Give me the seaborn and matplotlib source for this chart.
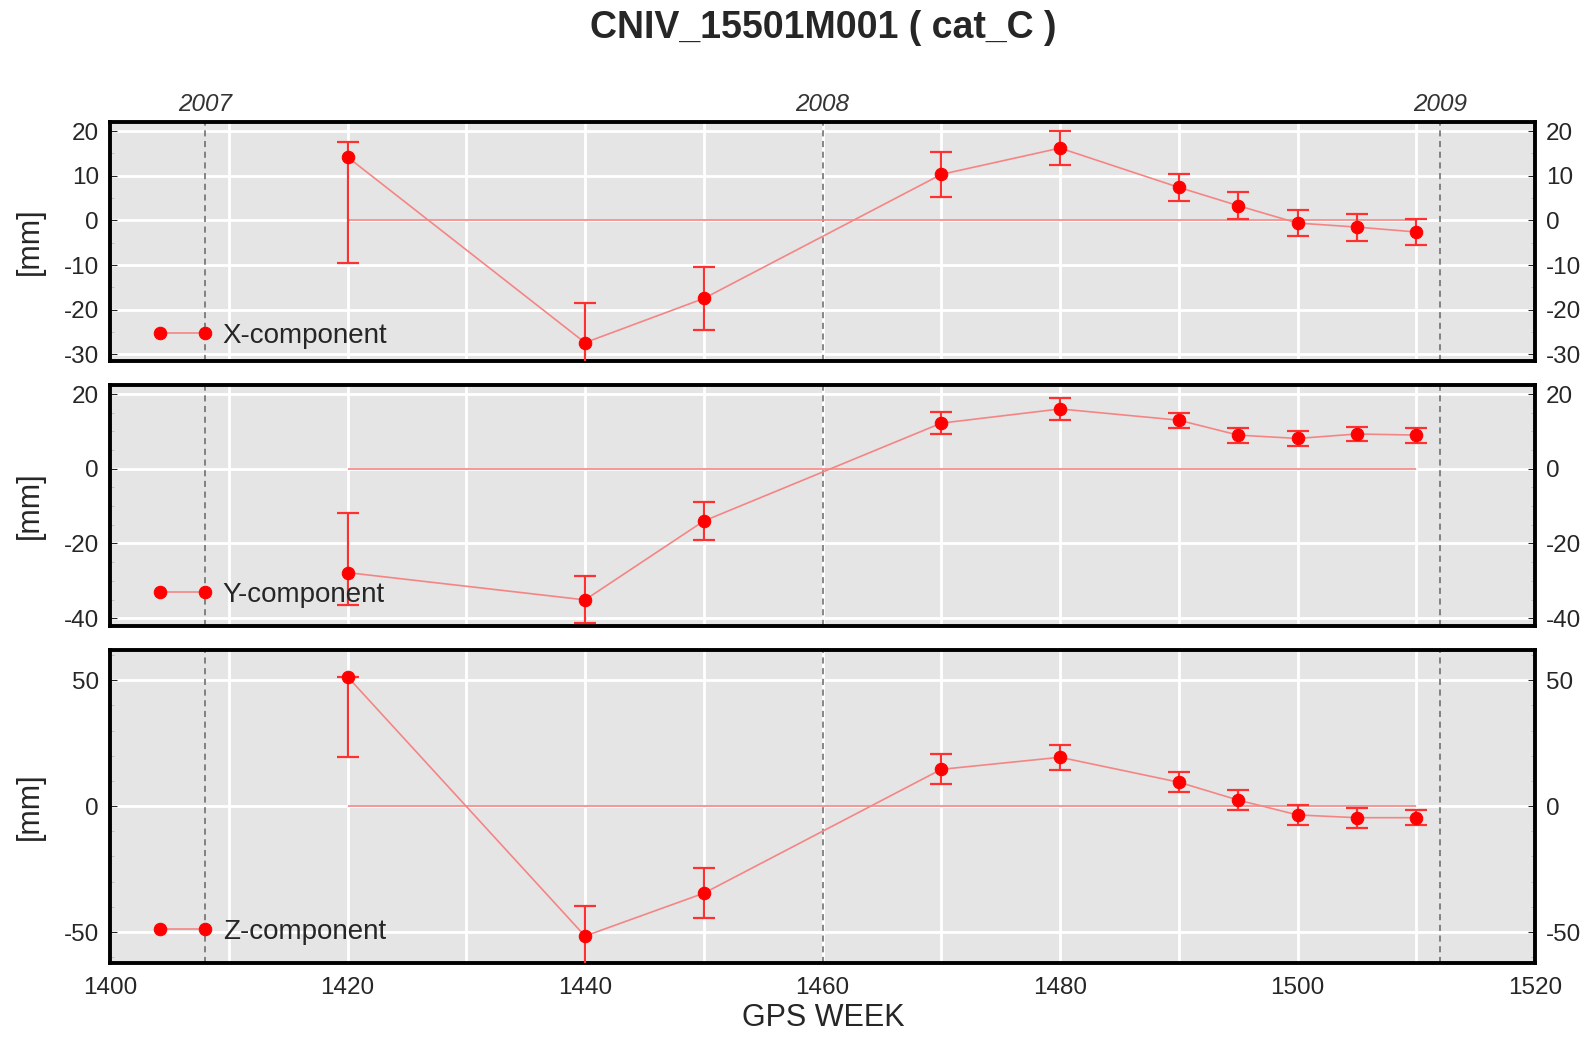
import numpy as np
import pandas as pd
import matplotlib
matplotlib.use('Agg')
import matplotlib.pyplot as plt
from matplotlib.transforms import offset_copy, blended_transform_factory
from matplotlib.ticker import MultipleLocator
import seaborn as sns

titulo = 'CNIV_15501M001 ( cat_C )'
semanas = [1420, 1440, 1450, 1470, 1480, 1490, 1495, 1500, 1505, 1510]

x_val = [14.2, -27.4, -17.5, 10.3, 16.2, 7.4, 3.3, -0.6, -1.5, -2.6]
x_lo = [-9.5, -36.4, -24.5, 5.3, 12.4, 4.3, 0.3, -3.5, -4.6, -5.6]
x_hi = [17.6, -18.4, -10.5, 15.3, 20.1, 10.4, 6.3, 2.3, 1.5, 0.4]

y_val = [-27.8, -35.1, -14.0, 12.2, 16.0, 13.0, 9.0, 8.1, 9.3, 9.0]
y_lo = [-36.4, -41.4, -19.0, 9.2, 13.0, 11.0, 7.0, 6.1, 7.3, 7.0]
y_hi = [-11.9, -28.8, -9.0, 15.2, 19.0, 15.0, 11.0, 10.1, 11.3, 11.0]

z_val = [51.4, -51.6, -34.6, 14.6, 19.4, 9.5, 2.4, -3.5, -4.6, -4.6]
z_lo = [19.6, -63.6, -44.6, 8.6, 14.5, 5.5, -1.6, -7.5, -8.6, -7.6]
z_hi = [51.4, -39.6, -24.6, 20.6, 24.3, 13.5, 6.4, 0.5, -0.6, -1.6]

anos = ['2007', '2008', '2009']
semanas_ano = [1408, 1460, 1512]

componentes = ['X-component', 'Y-component', 'Z-component']
valores = [x_val, y_val, z_val]
inferiores = [x_lo, y_lo, z_lo]
superiores = [x_hi, y_hi, z_hi]
limites_y = [(-31.5, 22.1), (-42.1, 22.4), (-62.2, 62)]
passo_y = [10, 20, 50]
passo_menor = [5, 5, 10]

sns.set_style('darkgrid', {'axes.facecolor': '#e5e5e5', 'grid.color': 'white'})
plt.rcParams['font.family'] = ['Liberation Sans', 'DejaVu Sans']
plt.rcParams['axes.unicode_minus'] = False

fig = plt.figure(figsize=(15.92, 10.37), dpi=100)
# posicoes dos paineis em fracao da figura
caixas = [(0.0691, 0.6519, 0.8951, 0.2307),
          (0.0691, 0.3963, 0.8951, 0.2324),
          (0.0691, 0.0716, 0.8951, 0.3016)]
legenda_y = [25, 31, 31]

cor_linha = '#f58585'
cor_ponto = '#ff0000'

for i in range(3):
    ax = fig.add_axes(caixas[i])
    df = pd.DataFrame({'semana': semanas, 'valor': valores[i]})
    val = np.array(valores[i])
    erro = [val - np.array(inferiores[i]), np.array(superiores[i]) - val]

    ax.hlines(0, semanas[0], semanas[-1], color=cor_linha, lw=1.2, zorder=2)
    for s in semanas_ano:
        ax.axvline(s, color='#666666', lw=1.1, ls=(0, (4, 3)), zorder=1.5)
    ax.errorbar(semanas, val, yerr=erro, fmt='none', ecolor='#ff3030',
                elinewidth=1.6, capsize=8, capthick=1.6, zorder=3)
    sns.lineplot(data=df, x='semana', y='valor', ax=ax, color=cor_linha, lw=1.2,
                 marker='o', markersize=9, markerfacecolor=cor_ponto,
                 markeredgecolor=cor_ponto, label=componentes[i], zorder=4)

    ax.set_xlim(1400, 1520)
    ax.set_ylim(*limites_y[i])
    ax.xaxis.set_major_locator(MultipleLocator(20))
    ax.xaxis.set_minor_locator(MultipleLocator(10))
    ax.yaxis.set_major_locator(MultipleLocator(passo_y[i]))
    ax.yaxis.set_minor_locator(MultipleLocator(passo_menor[i]))
    ax.grid(True, which='major', color='white', lw=2)
    ax.grid(True, which='minor', axis='x', color='white', lw=2)
    ax.set_xlabel('')
    ax.set_ylabel('[mm]', fontsize=22)
    ax.yaxis.set_label_coords(-0.046, 0.5)

    ax.tick_params(axis='y', which='major', labelsize=17.5, left=True, right=True,
                   labelright=True, direction='in', length=5, pad=8)
    ax.tick_params(axis='y', which='minor', left=True, right=True,
                   direction='in', length=3, color='#bbbbbb')
    ax.tick_params(axis='x', which='both', length=0, labelsize=17.5, pad=10)
    if i < 2:
        ax.tick_params(axis='x', labelbottom=False)

    for lado in ax.spines.values():
        lado.set_visible(True)
        lado.set_color('black')
        lado.set_linewidth(2.8)

    trans = offset_copy(ax.transAxes, fig=fig, x=42, y=legenda_y[i], units='dots')
    ax.legend(loc='center left', bbox_to_anchor=(0, 0), bbox_transform=trans,
              frameon=False, numpoints=2, handlelength=2.2, handletextpad=0.35,
              borderpad=0, borderaxespad=0, fontsize=20)

    if i == 0:
        tr = blended_transform_factory(ax.transData, ax.transAxes)
        for ano, s in zip(anos, semanas_ano):
            ax.text(s, 1.071, ano, transform=tr, ha='center', va='center',
                    fontsize=17.5, style='italic', color='#333333')

fig.text(0.517, 0.9726, titulo, ha='center', va='center', fontsize=27, fontweight='bold')
fig.text(0.517, 0.0183, 'GPS WEEK', ha='center', va='center', fontsize=22)

plt.savefig('out.png', dpi=100)
